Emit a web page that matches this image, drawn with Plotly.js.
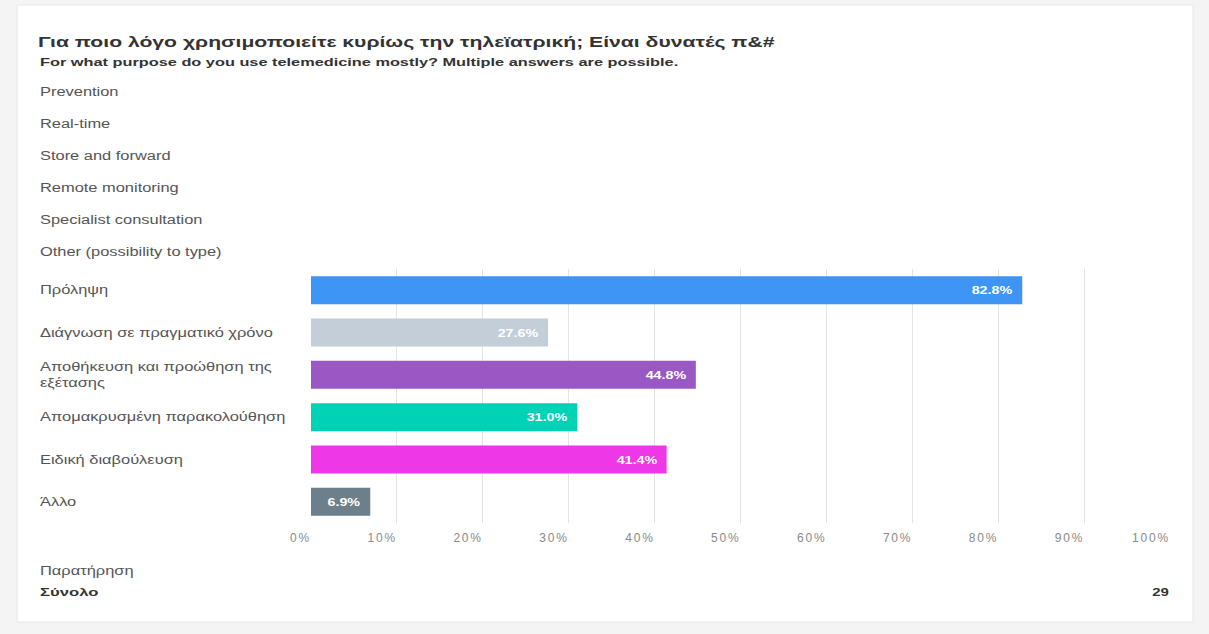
<!DOCTYPE html>
<html>
<head>
<meta charset="utf-8">
<script src="https://cdn.plot.ly/plotly-3.0.1.min.js"></script>
<style>
html,body{margin:0;padding:0;background:#f4f4f4;}
#chart{width:1209px;height:634px;}
</style>
</head>
<body>
<div id="chart"></div>
<script>
// ---- data ----
const titleText = "Για ποιο λόγο χρησιμοποιείτε κυρίως την τηλεϊατρική; Είναι δυνατές π&amp;#";
const subtitleText = "For what purpose do you use telemedicine mostly? Multiple answers are possible.";
const englishOptions = ["Prevention", "Real-time", "Store and forward", "Remote monitoring", "Specialist consultation", "Other (possibility to type)"];
const categories = ["Πρόληψη", "Διάγνωση σε πραγματικό χρόνο", "Αποθήκευση και προώθηση της<br>εξέτασης", "Απομακρυσμένη παρακολούθηση", "Ειδική διαβούλευση", "Άλλο"];
const percentages = [82.8, 27.6, 44.8, 31.0, 41.4, 6.9];
const barColors = ["#3f95f5", "#c4ced8", "#9a58c4", "#00d3b5", "#ee38e8", "#6d7f8b"];
const tickValues = [0, 10, 20, 30, 40, 50, 60, 70, 80, 90, 100];
const tickLabels = tickValues.map(v => v + "%");
const noteLabel = "Παρατήρηση";
const totalLabel = "Σύνολο";
const totalValue = 29;

// ---- layout helpers ----
const W = 1209, H = 634;
const mL = 311, mR = 39, mT = 269, mB = 111;
const plotH = H - mT - mB;
function py(p) { return (H - mB - p) / plotH; } // pixel y -> paper y
function px(p) { return (p - mL) / (W - mL - mR); } // pixel x -> paper x

const font = "Liberation Sans, Arial, Helvetica, sans-serif";
const labelColor = "#555555";
const SX = 1.37; // horizontal stretch of the reference's text

const annotations = [];
const stretch = []; // [scaleX, origin] per annotation (style)
function addAnn(a, s, origin) { annotations.push(a); stretch.push([s, origin || "left"]); }

addAnn({xref:"paper", yref:"paper", x:px(38), y:py(62), xanchor:"left", yanchor:"middle", align:"left",
  text:"<b>" + subtitleText + "</b>", showarrow:false, font:{family:font, size:11.5, color:"#333"}}, 1.42);
englishOptions.forEach((t, i) => {
  addAnn({xref:"paper", yref:"paper", x:px(38), y:py(92 + i*32), xanchor:"left", yanchor:"middle", align:"left",
    text:t, showarrow:false, font:{family:font, size:12, color:labelColor}}, SX);
});
categories.forEach((c) => {
  addAnn({xref:"paper", yref:"y", x:px(38), y:c, xanchor:"left", yanchor:"middle", align:"left",
    text:c, showarrow:false, font:{family:font, size:12, color:labelColor}}, SX);
});
// value labels inside bar ends
percentages.forEach((v, i) => {
  addAnn({xref:"x", yref:"y", x:v, y:categories[i], xanchor:"right", yanchor:"middle", align:"right", xshift:-8,
    text:"<b>" + v.toFixed(1) + "%</b>", showarrow:false, font:{family:font, size:11, color:"#ffffff"}}, 1.3, "right");
});
addAnn({xref:"paper", yref:"paper", x:px(38), y:py(571), xanchor:"left", yanchor:"middle", align:"left",
  text:noteLabel, showarrow:false, font:{family:font, size:12, color:labelColor}}, SX);
addAnn({xref:"paper", yref:"paper", x:px(38), y:py(592), xanchor:"left", yanchor:"middle", align:"left",
  text:"<b>" + totalLabel + "</b>", showarrow:false, font:{family:font, size:11.5, color:"#333"}}, 1.45);
addAnn({xref:"paper", yref:"paper", x:px(1171), y:py(592), xanchor:"right", yanchor:"middle", align:"right",
  text:"<b>" + totalValue + "</b>", showarrow:false, font:{family:font, size:11.5, color:"#333"}}, 1.3, "right");

const trace = {
  type:"bar", orientation:"h",
  x: percentages, y: categories,
  marker:{color: barColors},
  hoverinfo:"none"
};

const layout = {
  width:W, height:H,
  paper_bgcolor:"rgba(0,0,0,0)", plot_bgcolor:"rgba(0,0,0,0)",
  margin:{l:mL, r:mR, t:mT, b:mB},
  showlegend:false,
  bargap:0.34,
  title:{text:titleText, xref:"container", yref:"container", x:38/W, y:1-42/H, xanchor:"left", yanchor:"middle",
    font:{family:font, size:15, color:"#333", weight:"bold"}},
  xaxis:{range:[0,100], tickvals:tickValues, ticktext:tickLabels, showgrid:true, gridcolor:"#e3e3e3", gridwidth:1,
    zeroline:false, showline:false, ticks:"", ticklabelposition:"outside left", ticklabelstandoff:6,
    tickfont:{family:font, size:12, color:"#8a8a8a"}, fixedrange:true},
  yaxis:{autorange:"reversed", showticklabels:false, showgrid:false, zeroline:false, ticks:"", fixedrange:true},
  annotations: annotations,
  shapes:[{type:"rect", xref:"paper", yref:"paper", x0:px(17), x1:px(1193), y0:py(622), y1:py(5),
    fillcolor:"#ffffff", line:{color:"#e6e6e6", width:1}, layer:"below"}]
};

function stretchEl(el, s, origin) {
  el.style.transformBox = "fill-box";
  el.style.transformOrigin = origin + " center";
  el.style.transform = "scaleX(" + s + ")";
}

Plotly.newPlot("chart", [trace], layout, {displayModeBar:false, staticPlot:true}).then(gd => {
  gd.querySelectorAll(".annotation-text").forEach((el, i) => { stretchEl(el, stretch[i][0], stretch[i][1]); });
  const t = gd.querySelector(".gtitle");
  if (t) stretchEl(t, 1.41, "left");
  gd.querySelectorAll(".xtick text").forEach(el => { el.style.letterSpacing = "1.8px"; });
});
</script>
</body>
</html>
